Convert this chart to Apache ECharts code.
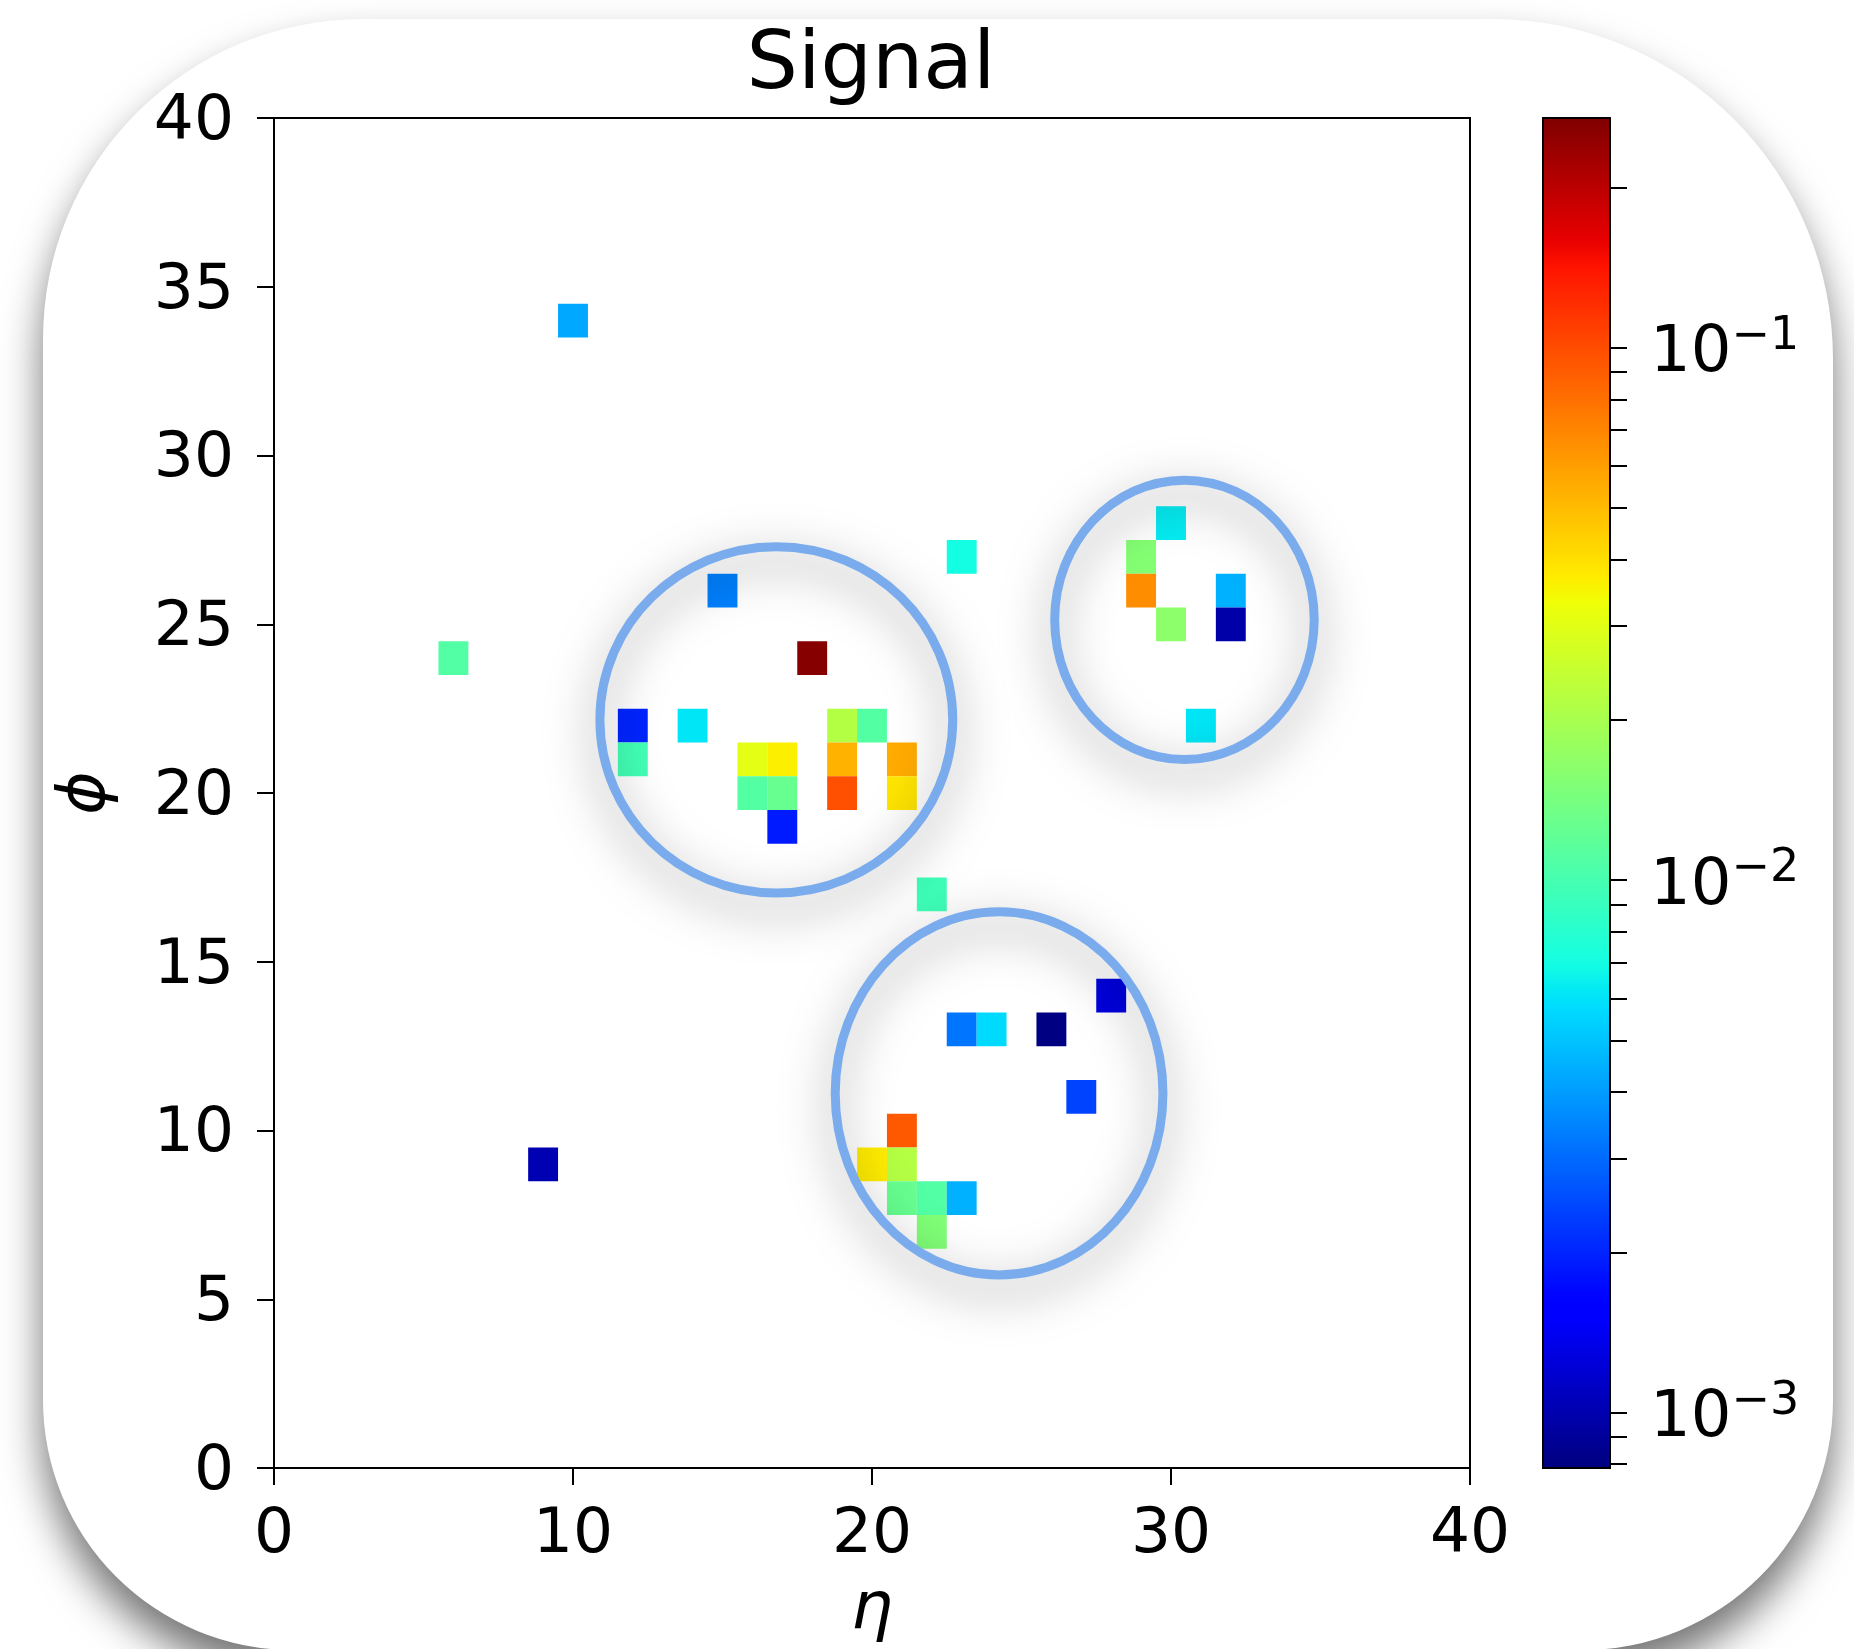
<!DOCTYPE html>
<html>
<head>
<meta charset="utf-8">
<script src="https://cdn.jsdelivr.net/npm/echarts@6/dist/echarts.min.js"></script>
<style>
html,body{margin:0;padding:0;background:#ffffff;}
#chart{width:1854px;height:1649px;}
</style>
</head>
<body>
<div id="chart"></div>
<script>
// ---- data ----
const cellEta   = [10, 6, 23, 15, 18, 12, 12, 14, 16, 17, 16, 17, 17, 19, 20, 19, 19, 21, 21, 22,
                   30, 29, 29, 30, 32, 32, 31, 28, 23, 24, 26, 27, 21, 20, 21, 21, 22, 23, 22, 9];
const cellPhi   = [34, 24, 27, 26, 24, 22, 21, 22, 21, 21, 20, 20, 19, 22, 22, 21, 20, 21, 20, 17,
                   28, 27, 26, 25, 26, 25, 22, 14, 13, 13, 13, 11, 10, 9, 9, 8, 8, 8, 7, 9];
const cellValue = [0.0043, 0.0109, 0.0070, 0.0034, 0.26, 0.0020, 0.0097, 0.0061, 0.0306, 0.0363,
                   0.0110, 0.0126, 0.0019, 0.0216, 0.0110, 0.0531, 0.098, 0.0556, 0.0387, 0.0094,
                   0.0063, 0.0155, 0.067, 0.0164, 0.0045, 0.00097, 0.0061, 0.00128, 0.0032, 0.0057,
                   0.00080, 0.0024, 0.092, 0.0372, 0.0218, 0.0126, 0.0109, 0.0045, 0.0150, 0.00102];

// annotation circles (centre and radii in data units)
const circleEta  = [16.8, 30.45, 24.25];
const circlePhi  = [22.17, 25.13, 11.10];
const circleRadEta = [5.90, 4.34, 5.48];
const circleRadPhi = [5.13, 4.14, 5.38];

// axes
const xTickInterval = 10;
const yTickInterval = 5;
const axisMin = 0, axisMax = 40;

// colour bar (log scale)
const colorMin = 0.000787;
const colorMax = 0.27;
const colorbarTickValues = [0.0008, 0.0009, 0.001, 0.002, 0.003, 0.004, 0.005, 0.006, 0.007, 0.008, 0.009,
                            0.01, 0.02, 0.03, 0.04, 0.05, 0.06, 0.07, 0.08, 0.09, 0.1, 0.2];
const colorbarLabelValues = [0.001, 0.01, 0.1];

// ---- jet colormap (matplotlib segment data) ----
const jetSeg = {
  r: [[0, 0], [0.35, 0], [0.66, 1], [0.89, 1], [1, 0.5]],
  g: [[0, 0], [0.125, 0], [0.375, 1], [0.64, 1], [0.91, 0], [1, 0]],
  b: [[0, 0.5], [0.11, 1], [0.34, 1], [0.65, 0], [1, 0]]
};
function segVal(seg, t) {
  for (let i = 1; i < seg.length; i++) {
    if (t <= seg[i][0]) {
      const a = seg[i - 1], b = seg[i];
      return a[1] + (b[1] - a[1]) * (t - a[0]) / (b[0] - a[0]);
    }
  }
  return seg[seg.length - 1][1];
}
const jetColors = [];
for (let i = 0; i <= 200; i++) {
  const t = i / 200;
  const c = ['r', 'g', 'b'].map(k => Math.round(255 * segVal(jetSeg[k], t)));
  jetColors.push('rgb(' + c.join(',') + ')');
}

const cellData = cellEta.map((e, i) => [e, cellPhi[i], Math.log10(cellValue[i])]);
const circleData = circleEta.map((e, i) => [e, circlePhi[i], circleRadEta[i], circleRadPhi[i]]);

const FONT = 'DejaVu Sans';
const chart = echarts.init(document.getElementById('chart'), null, {renderer: 'canvas'});

const option = {
  backgroundColor: '#ffffff',
  animation: false,
  graphic: [{
    type: 'rect',
    left: 43, top: 19, z: -10, silent: true,
    shape: {width: 1790, height: 1631, r: [320, 340, 250, 250]},
    style: {fill: '#ffffff', shadowBlur: 40, shadowOffsetY: 25, shadowColor: 'rgba(0,0,0,0.55)'}
  }],
  title: {
    text: 'Signal',
    left: 866, top: 21, textAlign: 'center',
    textStyle: {fontFamily: FONT, fontSize: 81, fontWeight: 'normal', color: '#000'}
  },
  grid: [
    {left: 274, top: 118, width: 1196, height: 1350, show: true, borderColor: '#000', borderWidth: 2, backgroundColor: 'transparent'},
    {left: 1543, top: 118, width: 67, height: 1350, show: true, borderColor: '#000', borderWidth: 2, backgroundColor: 'transparent', z: 10}
  ],
  xAxis: [
    {
      gridIndex: 0, type: 'value', min: axisMin, max: axisMax, interval: xTickInterval,
      name: 'η', nameLocation: 'middle', nameGap: 110,
      nameTextStyle: {fontFamily: FONT, fontSize: 66, fontStyle: 'italic', color: '#000'},
      axisLine: {show: true, onZero: false, lineStyle: {color: '#000', width: 2}},
      axisTick: {show: true, inside: false, length: 17, lineStyle: {color: '#000', width: 2}},
      axisLabel: {fontFamily: FONT, fontSize: 63, color: '#000', margin: 36},
      splitLine: {show: false}
    },
    {gridIndex: 1, type: 'value', min: 0, max: 1, show: false}
  ],
  yAxis: [
    {
      gridIndex: 0, type: 'value', min: axisMin, max: axisMax, interval: yTickInterval,
      name: 'ϕ', nameLocation: 'middle', nameGap: 154,
      nameTextStyle: {fontFamily: FONT, fontSize: 66, fontStyle: 'italic', color: '#000'},
      axisLine: {show: true, onZero: false, lineStyle: {color: '#000', width: 2}},
      axisTick: {show: true, inside: false, length: 17, lineStyle: {color: '#000', width: 2}},
      axisLabel: {
        margin: 40,
        formatter: function (v) { return '{a|' + v + '}'; },
        rich: {a: {fontFamily: FONT, fontSize: 63, color: '#000', padding: [9, 0, 0, 0]}}
      },
      splitLine: {show: false}
    },
    {
      gridIndex: 1, type: 'value', position: 'right', z: 10,
      min: Math.log10(colorMin), max: Math.log10(colorMax),
      axisLine: {show: true, onZero: false, lineStyle: {color: '#000', width: 2}},
      axisTick: {show: true, inside: false, length: 17, lineStyle: {color: '#000', width: 2},
                 customValues: colorbarTickValues.map(v => Math.log10(v))},
      axisLabel: {
        customValues: colorbarLabelValues.map(v => Math.log10(v)),
        margin: 40,
        padding: [14, 0, 0, 0],
        formatter: function (v) { return '{m|10}{s|−' + Math.round(-v) + '}'; },
        rich: {
          m: {fontFamily: FONT, fontSize: 64, color: '#000', lineHeight: 64, height: 64},
          s: {fontFamily: FONT, fontSize: 46, color: '#000', lineHeight: 28, height: 28, verticalAlign: 'top'}
        }
      },
      splitLine: {show: false}
    }
  ],
  visualMap: {
    type: 'continuous',
    seriesIndex: 0, dimension: 2,
    min: Math.log10(colorMin), max: Math.log10(colorMax),
    inRange: {color: jetColors},
    calculable: false, hoverLink: false,
    orient: 'vertical', left: 1543, top: 118, padding: 0,
    itemWidth: 67, itemHeight: 1350,
    text: null
  },
  series: [
    {
      type: 'custom', xAxisIndex: 0, yAxisIndex: 0, z: 2,
      data: cellData,
      encode: {x: 0, y: 1},
      renderItem: function (params, api) {
        const p = api.coord([api.value(0) - 0.5, api.value(1) + 0.5]);
        const s = api.size([1, 1]);
        return {type: 'rect', shape: {x: p[0], y: p[1], width: s[0], height: s[1]},
                style: {fill: api.visual('color')}};
      }
    },
    {
      type: 'custom', xAxisIndex: 0, yAxisIndex: 0, z: 3, silent: true,
      data: circleData,
      encode: {x: 0, y: 1},
      renderItem: function (params, api) {
        const c = api.coord([api.value(0), api.value(1)]);
        const s = api.size([api.value(2), api.value(3)]);
        return {type: 'ellipse', shape: {cx: c[0], cy: c[1], rx: s[0], ry: s[1]},
                style: {fill: 'none', stroke: '#7aaced', lineWidth: 9,
                        shadowBlur: 45, shadowColor: 'rgba(0,0,0,0.5)', shadowOffsetY: 14}};
      }
    }
  ]
};
chart.setOption(option);
</script>
</body>
</html>
